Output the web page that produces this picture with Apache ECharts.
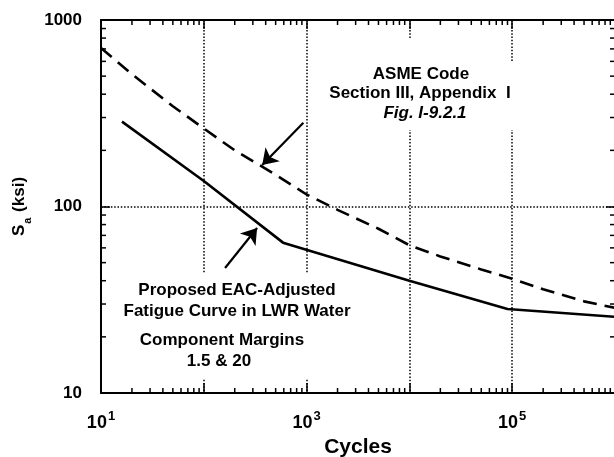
<!DOCTYPE html>
<html>
<head>
<meta charset="utf-8">
<script src="https://cdn.jsdelivr.net/npm/echarts@6/dist/echarts.min.js"></script>
<style>
html,body{margin:0;padding:0;background:#fff;}
#c{width:614px;height:457px;}
</style>
</head>
<body>
<div id="c"></div>
<script>
// ---- data ----
const asmeCycles = [10, 20, 50, 100, 200, 500, 1000, 2000, 5000, 1e4, 2e4, 5e4, 1e5, 2e5, 5e5, 1e6];
const asmeSa     = [708, 512, 345, 262, 200, 148, 116, 96, 76, 62, 54, 46, 41, 36, 31, 28.6];
const eacCycles  = [16, 100, 590, 1e4, 9e4, 1e6];
const eacSa      = [285, 137, 64, 40, 28.2, 25.6];
const xMin = 10, xMax = 1e6, yMin = 10, yMax = 1000;
const xLabelExps = [1, 3, 5];
const yTickLabels = ['10', '100', '1000'];
const mantissas = [2, 3, 4, 5, 6, 7, 8, 9];
const xDecades = [10, 100, 1000, 1e4, 1e5];
const yDecades = [10, 100];
// arrows (data coordinates): [tail, tip]
const arrowAsme = [[930, 281], [370, 167]];
const arrowEac  = [[161, 46.8], [330, 76.7]];
const asmeText = ['ASME Code', 'Section III, Appendix  I', 'Fig. I-9.2.1'];
const eacText1 = ['Proposed EAC-Adjusted', 'Fatigue Curve in LWR Water'];
const eacText2 = ['Component Margins', '1.5 & 20'];

// minor tick positions: [x, y, dirX, dirY]
const minorTicks = [];
xDecades.forEach(d => mantissas.forEach(m => {
  minorTicks.push([d * m, yMin, 0, -1]);
  minorTicks.push([d * m, yMax, 0, 1]);
}));
yDecades.forEach(d => mantissas.forEach(m => {
  minorTicks.push([xMin, d * m, 1, 0]);
  minorTicks.push([xMax, d * m, -1, 0]);
}));

const FONT = '"Liberation Sans", Arial, Helvetica, sans-serif';
const chart = echarts.init(document.getElementById('c'), null, {renderer: 'canvas'});

const option = {
  animation: false,
  backgroundColor: '#fff',
  grid: {left: 101, top: 20, width: 514, bottom: 64, containLabel: false, outerBoundsMode: 'none'},
  xAxis: [{
    type: 'log', min: xMin, max: xMax, logBase: 10, position: 'bottom',
    name: 'Cycles', nameLocation: 'middle', nameGap: 42,
    nameTextStyle: {fontFamily: FONT, fontWeight: 'bold', fontSize: 21, color: '#000'},
    axisLine: {show: true, lineStyle: {color: '#000', width: 2}},
    axisTick: {show: true, inside: true, length: 10, lineStyle: {color: '#000', width: 1.5}},
    axisLabel: {
      show: true, margin: 17,
      formatter: function (v) {
        const e = Math.round(Math.log10(v));
        if (xLabelExps.indexOf(e) < 0) return '';
        return '{b|10}{s|' + e + '}';
      },
      rich: {
        b: {fontFamily: FONT, fontWeight: 'bold', fontSize: 18, color: '#000', verticalAlign: 'bottom', lineHeight: 22},
        s: {fontFamily: FONT, fontWeight: 'bold', fontSize: 13, color: '#000', verticalAlign: 'top', lineHeight: 22, padding: [0, 0, 8, 1]}
      }
    },
    splitLine: {show: true, lineStyle: {color: '#000', width: 1.5, type: [1.5, 1.8]}}
  }, {
    type: 'log', min: xMin, max: xMax, logBase: 10, position: 'top',
    axisLine: {show: true, lineStyle: {color: '#000', width: 2}},
    axisTick: {show: true, inside: true, length: 9, lineStyle: {color: '#000', width: 1.5}},
    axisLabel: {show: false}, splitLine: {show: false}
  }],
  yAxis: [{
    type: 'log', min: yMin, max: yMax, logBase: 10, position: 'left',
    name: '{m|S}{sub|a}{m| (ksi)}', nameLocation: 'middle', nameGap: 68, nameRotate: 90,
    nameTextStyle: {
      rich: {
        m: {fontFamily: FONT, fontWeight: 'bold', fontSize: 17, color: '#000', lineHeight: 22, verticalAlign: 'top'},
        sub: {fontFamily: FONT, fontWeight: 'bold', fontSize: 11, color: '#000', lineHeight: 22, verticalAlign: 'bottom', padding: [6, 1, 0, 1]}
      }
    },
    axisLine: {show: true, lineStyle: {color: '#000', width: 2}},
    axisTick: {show: true, inside: true, length: 9, lineStyle: {color: '#000', width: 1.5}},
    axisLabel: {
      show: true, margin: 19, fontFamily: FONT, fontWeight: 'bold', fontSize: 17, color: '#000',
      formatter: function (v) {
        const s = String(Math.round(v));
        return yTickLabels.indexOf(s) >= 0 ? s : '';
      }
    },
    splitLine: {show: true, lineStyle: {color: '#000', width: 1.5, type: [1.5, 1.8]}}
  }, {
    type: 'log', min: yMin, max: yMax, logBase: 10, position: 'right',
    axisLine: {show: true, lineStyle: {color: '#000', width: 2}},
    axisTick: {show: true, inside: true, length: 9, lineStyle: {color: '#000', width: 1.5}},
    axisLabel: {show: false}, splitLine: {show: false}
  }],
  series: [
    {
      name: 'ASME', type: 'line', symbol: 'none', silent: true, z: 4,
      data: asmeCycles.map((c, i) => [c, asmeSa[i]]),
      lineStyle: {color: '#000', width: 2.6, type: [14, 8]},
      markLine: {
        silent: true, symbol: ['none', 'arrow'], symbolSize: 15,
        label: {show: false},
        lineStyle: {color: '#000', width: 2.2, type: 'solid'},
        data: [[{coord: arrowAsme[0]}, {coord: arrowAsme[1]}]]
      }
    },
    {
      name: 'EAC', type: 'line', symbol: 'none', silent: true, z: 4,
      data: eacCycles.map((c, i) => [c, eacSa[i]]),
      lineStyle: {color: '#000', width: 2.6, type: 'solid'},
      markLine: {
        silent: true, symbol: ['none', 'arrow'], symbolSize: 15,
        label: {show: false},
        lineStyle: {color: '#000', width: 2.2, type: 'solid'},
        data: [[{coord: arrowEac[0]}, {coord: arrowEac[1]}]]
      }
    },
    {
      name: 'minorTicks', type: 'custom', silent: true, z: 3, clip: false,
      data: minorTicks,
      renderItem: function (params, api) {
        const p = api.coord([api.value(0), api.value(1)]);
        const dx = api.value(2), dy = api.value(3);
        return {
          type: 'line',
          shape: {x1: p[0], y1: p[1], x2: p[0] + dx * 5, y2: p[1] + dy * 5},
          style: {stroke: '#000', lineWidth: 1.5}
        };
      }
    }
  ],
  graphic: [
    {type: 'rect', z: 1, shape: {x: 330, y: 62, width: 186, height: 68}, style: {fill: '#fff'}},
    {type: 'rect', z: 1, shape: {x: 398, y: 38, width: 24, height: 26}, style: {fill: '#fff'}},
    {type: 'rect', z: 1, shape: {x: 118, y: 274, width: 240, height: 104}, style: {fill: '#fff'}},
    {type: 'text', z: 10, x: 421, y: 74, style: {text: asmeText[0], font: 'bold 17px ' + FONT, fill: '#000', align: 'center', verticalAlign: 'middle'}},
    {type: 'text', z: 10, x: 420, y: 93, style: {text: asmeText[1], font: 'bold 17px ' + FONT, fill: '#000', align: 'center', verticalAlign: 'middle'}},
    {type: 'text', z: 10, x: 425, y: 113, style: {text: asmeText[2], font: 'italic bold 17px ' + FONT, fill: '#000', align: 'center', verticalAlign: 'middle'}},
    {type: 'text', z: 10, x: 237, y: 290, style: {text: eacText1[0], font: 'bold 17px ' + FONT, fill: '#000', align: 'center', verticalAlign: 'middle'}},
    {type: 'text', z: 10, x: 237, y: 311, style: {text: eacText1[1], font: 'bold 17px ' + FONT, fill: '#000', align: 'center', verticalAlign: 'middle'}},
    {type: 'text', z: 10, x: 222, y: 340, style: {text: eacText2[0], font: 'bold 17px ' + FONT, fill: '#000', align: 'center', verticalAlign: 'middle'}},
    {type: 'text', z: 10, x: 219, y: 361, style: {text: eacText2[1], font: 'bold 17px ' + FONT, fill: '#000', align: 'center', verticalAlign: 'middle'}}
  ]
};
chart.setOption(option);
</script>
</body>
</html>
